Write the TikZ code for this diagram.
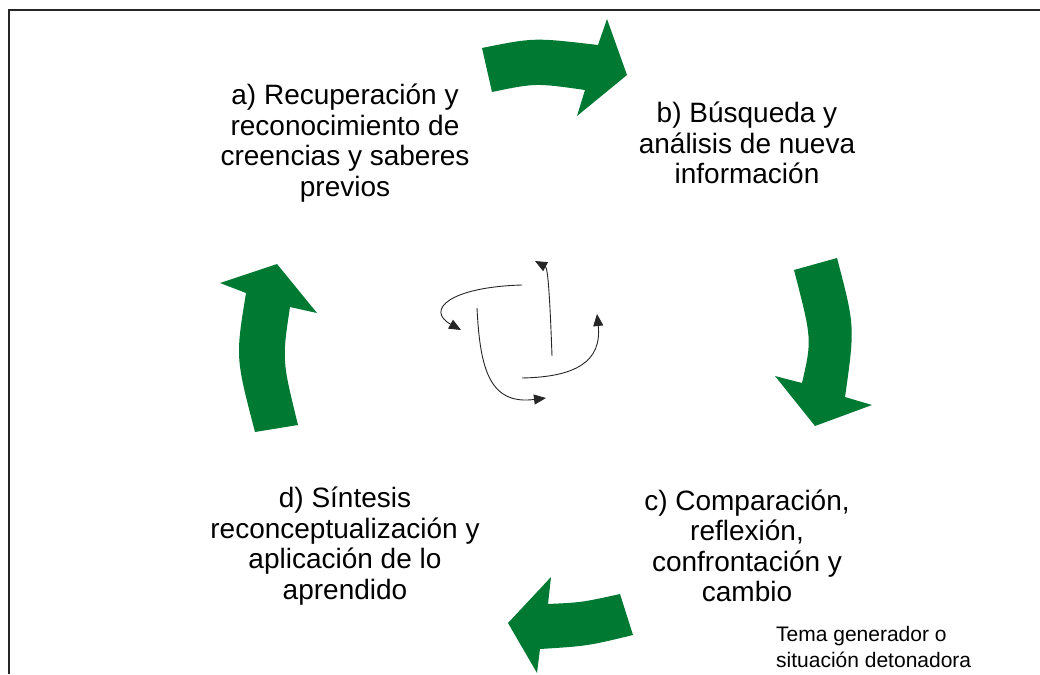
\documentclass[tikz,border=0pt]{standalone}
\usepackage{fontspec}
\setmainfont{Liberation Sans}
\usetikzlibrary{arrows.meta}
\definecolor{cycgreen}{RGB}{0,122,51}
\begin{document}
\begin{tikzpicture}[x=1pt,y=-1pt,
  greenarrow/.style={fill=cycgreen,draw=none},
  stagetext/.style={align=center,inner sep=0pt,font=\fontsize{28}{30.5}\selectfont},
  notetext/.style={align=left,inner sep=0pt,anchor=west,font=\fontsize{21}{26}\selectfont},
  swirl/.style={line width=0.9pt,black!85,-{Triangle[length=12pt,width=10pt]}}]
\useasboundingbox (0,0) rectangle (1040,674);
% frame
\draw[line width=2pt,black!85] (9,674) -- (9,10) -- (1040,10);
% green arrows
\path[greenarrow] (482,48) .. controls (534,37.5) .. (598,45) -- (607,19) -- (627,75) -- (577,116) -- (585,90) .. controls (535.5,83) .. (492,92) -- cycle;
\path[greenarrow] (794,270) -- (837,258) .. controls (855,326.5) .. (845,397) -- (872,405) -- (815,426) -- (775,376) -- (802,383) .. controls (812,339.5) .. (794,270) -- cycle;
\path[greenarrow] (620,594) -- (633,635) .. controls (587.5,646) .. (540,649) -- (537,673) -- (508,623) -- (551,577) -- (548,604) .. controls (582,602.4) .. (620,594) -- cycle;
\path[greenarrow] (255,432) .. controls (235.5,357.5) .. (246,293) -- (220,283) -- (277,264) -- (317,313) -- (290,307) .. controls (282,360) .. (298,425) -- cycle;
% texts
\node[stagetext] (a) at (345,143) {a) Recuperación y\\reconocimiento de\\creencias y saberes\\previos};
\node[stagetext] (b) at (747,143) {b) Búsqueda y\\análisis de nueva\\información};
\node[stagetext] (c) at (747,546) {c) Comparación,\\reflexión,\\confrontación y\\cambio};
\node[stagetext] (d) at (345,546) {d) Síntesis\\reconceptualización y\\aplicación de lo\\aprendido};
\node[notetext] (note) at (776,647) {Tema generador o\\situación detonadora};
% central swirl
\coordinate (s1) at (522,285); \coordinate (e1) at (461,330);
\coordinate (s2) at (477,308); \coordinate (e2) at (546,398);
\coordinate (s3) at (522,378); \coordinate (e3) at (597,314);
\coordinate (s4) at (552,356); \coordinate (e4) at (535,261);
\draw[swirl] (s1) .. controls (450,287) and (425,310) .. (e1);
\draw[swirl] (s2) .. controls (480,370) and (490,405) .. (e2);
\draw[swirl] (s3) .. controls (575,377) and (602,362) .. (e3);
\draw[swirl] (s4) .. controls (550,300) and (548,268) .. (e4);
\end{tikzpicture}
\end{document}
